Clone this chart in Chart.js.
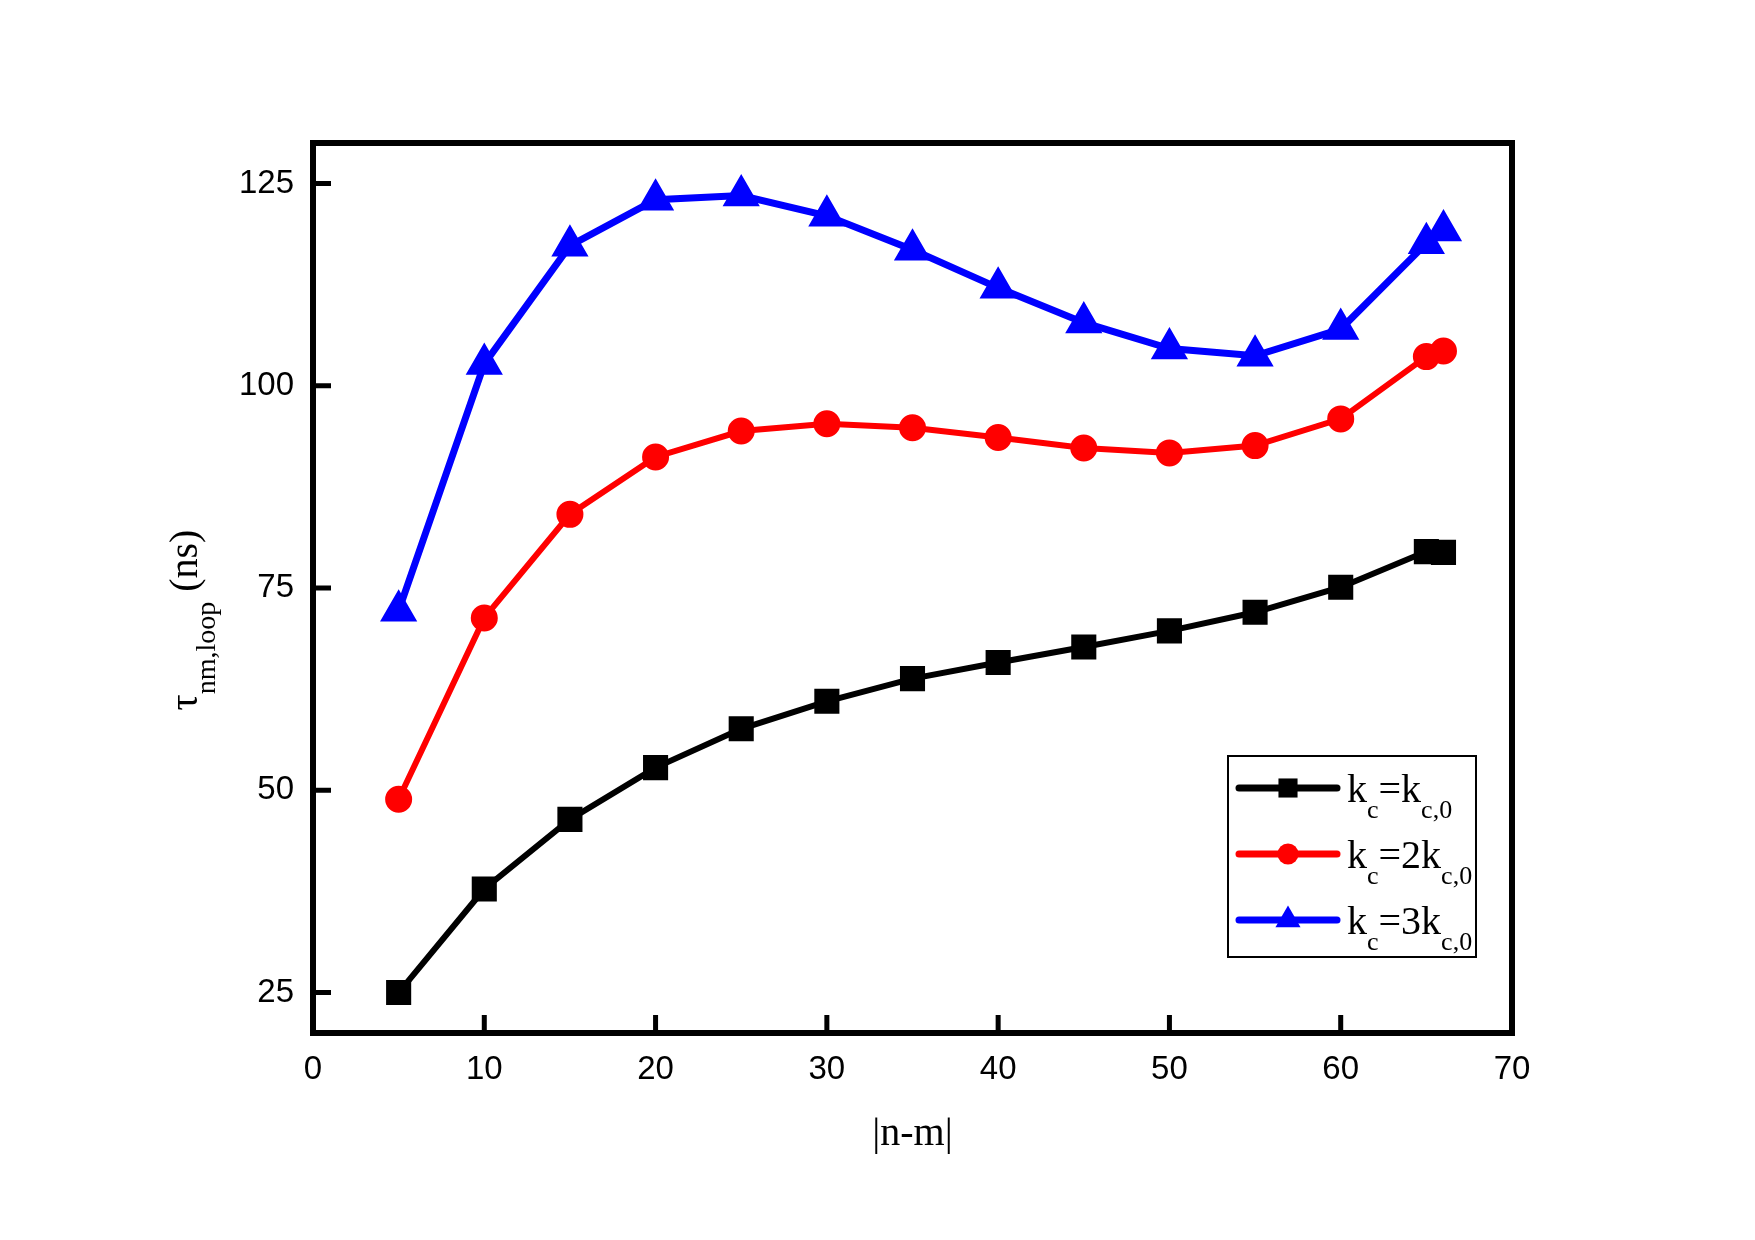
<!DOCTYPE html>
<html>
<head>
<meta charset="utf-8">
<script src="https://cdn.jsdelivr.net/npm/chart.js@4.4.0/dist/chart.umd.min.js"></script>
<style>
body{margin:0;background:#fff;}
#c{display:block;}
</style>
</head>
<body>
<canvas id="c" width="1755" height="1240" style="width:1755px;height:1240px"></canvas>
<script>
// |n-m| values and tau_nm,loop (ns) for each k_c
var nm = [5, 10, 15, 20, 25, 30, 35, 40, 45, 50, 55, 60, 65, 66];
var tauKc1 = [25.0, 37.8, 46.4, 52.8, 57.6, 61.0, 63.8, 65.8, 67.7, 69.7, 72.0, 75.1, 79.5, 79.4];
var tauKc2 = [48.9, 71.3, 84.1, 91.2, 94.4, 95.3, 94.8, 93.6, 92.3, 91.7, 92.6, 95.9, 103.6, 104.3];
var tauKc3 = [72.2, 102.7, 117.3, 123.0, 123.5, 121.0, 116.8, 112.1, 107.8, 104.6, 103.7, 107.0, 117.6, 119.2];

var xTicks = [0, 10, 20, 30, 40, 50, 60, 70];
var yTicks = [25, 50, 75, 100, 125];

// legend text, pieces flagged 1 are subscripts
var legendText = [
  [['k', 0], ['c', 1], ['=k', 0], ['c,0', 1]],
  [['k', 0], ['c', 1], ['=2k', 0], ['c,0', 1]],
  [['k', 0], ['c', 1], ['=3k', 0], ['c,0', 1]]
];
var yTitle = [['\u03c4', 0], ['nm,loop', 1], [' (ns)', 0]];
var xTitle = '|n-m|';

var serif = "'Times New Roman', 'Liberation Serif', serif";
var sans = "Arial, 'Liberation Sans', sans-serif";

function pts(ys) {
  var out = [];
  for (var i = 0; i < nm.length; i++) out.push({x: nm[i], y: ys[i]});
  return out;
}

function piecesWidth(ctx, pieces, big, small) {
  var w = 0;
  for (var i = 0; i < pieces.length; i++) {
    ctx.font = (pieces[i][1] ? small : big) + 'px ' + serif;
    w += ctx.measureText(pieces[i][0]).width;
  }
  return w;
}

function drawPieces(ctx, pieces, x, y, big, small, drop) {
  ctx.textAlign = 'left';
  ctx.textBaseline = 'alphabetic';
  for (var i = 0; i < pieces.length; i++) {
    var sub = pieces[i][1];
    ctx.font = (sub ? small : big) + 'px ' + serif;
    ctx.fillText(pieces[i][0], x, sub ? y + drop : y);
    x += ctx.measureText(pieces[i][0]).width;
  }
  return x;
}

var framePlugin = {
  id: 'frame',
  afterDraw: function(chart) {
    var ctx = chart.ctx, a = chart.chartArea;
    var xs = chart.scales.x, ys = chart.scales.y;
    ctx.save();
    ctx.strokeStyle = '#000';
    ctx.fillStyle = '#000';

    // inward ticks
    ctx.lineWidth = 5;
    ctx.beginPath();
    xs.ticks.forEach(function(t) {
      var px = xs.getPixelForValue(t.value);
      ctx.moveTo(px, a.bottom);
      ctx.lineTo(px, a.bottom - 18);
    });
    ys.ticks.forEach(function(t) {
      var py = ys.getPixelForValue(t.value);
      ctx.moveTo(a.left, py);
      ctx.lineTo(a.left + 18, py);
    });
    ctx.stroke();

    // frame
    ctx.lineWidth = 6;
    ctx.strokeRect(a.left, a.top, a.right - a.left, a.bottom - a.top);

    // legend
    var bx = a.right - 284, by = a.bottom - 277, bw = 248, bh = 201;
    ctx.lineWidth = 2;
    ctx.strokeRect(bx, by, bw, bh);
    chart.data.datasets.forEach(function(ds, i) {
      var cy = by + 32 + i * 66;
      ctx.strokeStyle = ds.borderColor;
      ctx.fillStyle = ds.backgroundColor;
      ctx.lineWidth = 7;
      ctx.lineCap = 'round';
      ctx.beginPath();
      ctx.moveTo(bx + 11, cy);
      ctx.lineTo(bx + 109, cy);
      ctx.stroke();
      ctx.lineCap = 'butt';
      Chart.helpers.drawPoint(ctx, {pointStyle: ds.pointStyle, radius: ds.pointRadius, rotation: 0, borderWidth: 0}, bx + 60, cy);
      ctx.fillStyle = '#000';
      drawPieces(ctx, legendText[i], bx + 119, cy + 14, 40, 26, 16);
    });

    // x title
    ctx.fillStyle = '#000';
    ctx.font = '40px ' + serif;
    ctx.textAlign = 'center';
    ctx.textBaseline = 'middle';
    ctx.fillText(xTitle, (a.left + a.right) / 2, a.bottom + 101);

    // y title (rotated, with subscript)
    var w = piecesWidth(ctx, yTitle, 40, 28);
    ctx.translate(a.left - 116, (a.top + a.bottom) / 2 + 32);
    ctx.rotate(-Math.PI / 2);
    drawPieces(ctx, yTitle, -w / 2, 0, 40, 28, 18);
    ctx.restore();
  }
};

function setTicks(list) {
  return function(scale) {
    scale.ticks = list.map(function(v) { return {value: v}; });
  };
}

new Chart(document.getElementById('c'), {
  type: 'line',
  data: {
    datasets: [
      {label: 'kc=kc,0', data: pts(tauKc1), borderColor: '#000000', backgroundColor: '#000000',
       borderWidth: 6, pointStyle: 'rect', pointRadius: 13.5},
      {label: 'kc=2kc,0', data: pts(tauKc2), borderColor: '#ff0000', backgroundColor: '#ff0000',
       borderWidth: 6, pointStyle: 'circle', pointRadius: 10.5},
      {label: 'kc=3kc,0', data: pts(tauKc3), borderColor: '#0000ff', backgroundColor: '#0000ff',
       borderWidth: 7, pointStyle: 'triangle', pointRadius: 14.5}
    ]
  },
  options: {
    responsive: false,
    devicePixelRatio: 1,
    animation: false,
    layout: {padding: {left: 0, right: 243, top: 143, bottom: 0}},
    elements: {
      line: {tension: 0, fill: false},
      point: {borderWidth: 0, hoverRadius: 0}
    },
    plugins: {legend: {display: false}, tooltip: {enabled: false}},
    scales: {
      x: {
        type: 'linear', min: 0, max: 70,
        afterBuildTicks: setTicks(xTicks),
        afterFit: function(s) { s.height = 207; },
        grid: {display: false}, border: {display: false},
        ticks: {color: '#000', padding: 9, maxRotation: 0, autoSkip: false,
                font: {family: sans, size: 33}}
      },
      y: {
        type: 'linear', min: 20, max: 130,
        afterBuildTicks: setTicks(yTicks),
        afterFit: function(s) { s.width = 313; },
        grid: {display: false}, border: {display: false},
        ticks: {color: '#000', padding: 11, autoSkip: false,
                font: {family: sans, size: 33}}
      }
    }
  },
  plugins: [framePlugin]
});
</script>
</body>
</html>
